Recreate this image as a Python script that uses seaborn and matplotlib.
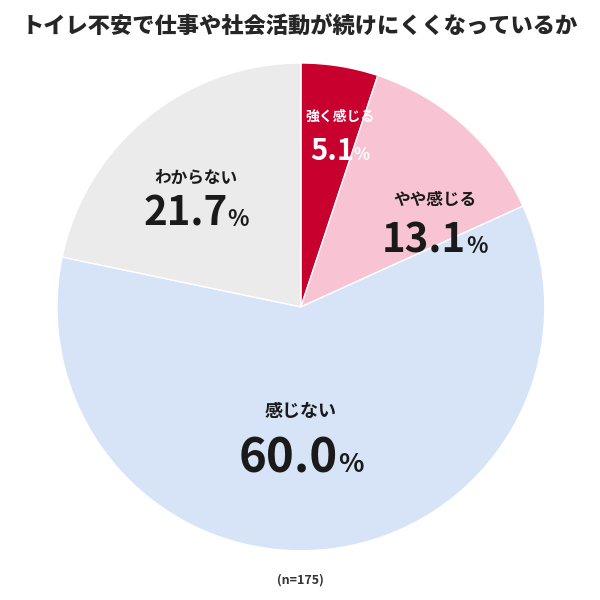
import numpy as np
import seaborn as sns
import matplotlib
matplotlib.use('Agg')
import matplotlib.pyplot as plt
from matplotlib.offsetbox import TextArea, HPacker, AnnotationBbox

sns.set_theme(style='white')
plt.rcParams['font.family'] = ['Noto Sans CJK JP', 'DejaVu Sans']

# データ
labels = ['強く感じる', 'やや感じる', '感じない', 'わからない']
values = [5.1, 13.1, 60.0, 21.7]
n_total = 175
title = 'トイレ不安で仕事や社会活動が続けにくくなっているか'

colors = ['#C8002D', '#F8C4D3', '#D7E4F8', '#EBEBEB']
text_colors = ['white', '#1a1a1a', '#1a1a1a', '#1a1a1a']
# ラベル位置 (x, 名前のy, 数値のy) ／ 文字サイズ
label_pos = [(0.16, 0.78, 0.64), (0.55, 0.44, 0.27), (0.0, -0.43, -0.62), (-0.43, 0.53, 0.38)]
name_size = [10, 12, 13, 12]
num_size = [21, 29, 34, 29]
pct_size = [12, 16, 19, 16]

fig = plt.figure(figsize=(6, 6), dpi=100)
ax = fig.add_axes([0.095, 0.082, 0.813, 0.813])

wedges, _ = ax.pie(values, colors=colors, startangle=90, counterclock=False,
                   wedgeprops={'edgecolor': 'white', 'linewidth': 1})
ax.set_xlim(-1, 1)
ax.set_ylim(-1, 1)
ax.set_aspect('equal')
ax.axis('off')

for i, lab in enumerate(labels):
    x, yn, yp = label_pos[i]
    ax.text(x, yn, lab, ha='center', va='center', fontsize=name_size[i],
            fontweight='bold', color=text_colors[i])
    num = TextArea(f'{values[i]:.1f}', textprops=dict(fontsize=num_size[i], fontweight='bold',
                                                       color=text_colors[i]))
    pct = TextArea('%', textprops=dict(fontsize=pct_size[i], fontweight='bold',
                                       color=text_colors[i]))
    box = HPacker(children=[num, pct], align='baseline', pad=0, sep=0)
    ab = AnnotationBbox(box, (x, yp), frameon=False, box_alignment=(0.5, 0.5))
    ax.add_artist(ab)

fig.text(0.5, 0.955, title, ha='center', va='center', fontsize=16, fontweight='black')
fig.text(0.5, 0.033, f'(n={n_total})', ha='center', va='center', fontsize=9,
         fontweight='bold', color='#333333')

fig.savefig('out.png', dpi=100, facecolor='white')
